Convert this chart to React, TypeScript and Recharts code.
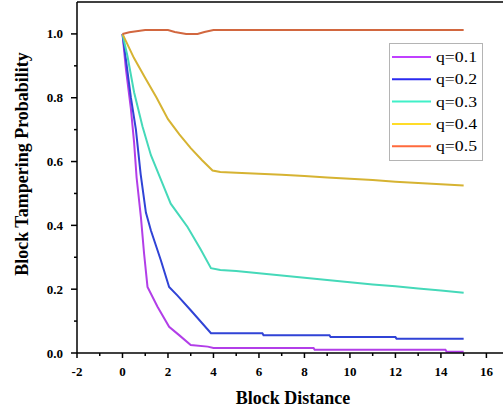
import React from 'react';
import { LineChart, Line, XAxis, YAxis, ReferenceLine, Legend, Label } from 'recharts';

// distances / probabilities, one pair per q
const q1Dist = [0, 0.15, 0.37, 0.51, 0.62, 0.81, 0.95, 1.1, 1.54, 2.05, 2.49, 3, 3.75, 4, 8.4, 8.45, 14.2, 14.25, 15];
const q1Prob = [1.0, 0.89, 0.765, 0.66, 0.55, 0.426, 0.311, 0.207, 0.145, 0.082, 0.056, 0.025, 0.02, 0.016, 0.016, 0.01, 0.01, 0.004, 0.004];

const q2Dist = [0, 0.15, 0.37, 0.59, 0.8, 1.03, 1.25, 1.69, 2.05, 2.42, 3, 3.89, 6.15, 6.2, 9.1, 9.15, 12.0, 12.05, 15];
const q2Prob = [1.0, 0.92, 0.8, 0.7, 0.56, 0.44, 0.384, 0.29, 0.207, 0.18, 0.134, 0.062, 0.062, 0.056, 0.056, 0.05, 0.05, 0.045, 0.045];

const q3Dist = [0, 0.22, 0.51, 0.88, 1.25, 1.72, 2.12, 2.86, 3.44, 3.89, 4.3, 5, 6, 7, 8, 9, 10, 11, 12, 13, 14, 15];
const q3Prob = [1.0, 0.93, 0.817, 0.71, 0.62, 0.538, 0.468, 0.395, 0.324, 0.266, 0.26, 0.257, 0.25, 0.243, 0.236, 0.229, 0.222, 0.215, 0.209, 0.202, 0.196, 0.189];

const q4Dist = [0, 0.5, 1, 1.5, 2, 2.5, 3, 3.5, 3.96, 4.3, 5, 6, 7, 8, 9, 10, 11, 12, 13, 14, 15];
const q4Prob = [1.0, 0.925, 0.862, 0.8, 0.733, 0.685, 0.642, 0.604, 0.572, 0.567, 0.565, 0.562, 0.559, 0.555, 0.55, 0.546, 0.542, 0.537, 0.533, 0.529, 0.525];

const q5Dist = [0, 0.3, 1, 2, 2.3, 2.8, 3.3, 3.6, 4, 15];
const q5Prob = [1.0, 1.005, 1.012, 1.012, 1.006, 1.0, 1.0, 1.006, 1.012, 1.012];

const seriesNames = ['q=0.1', 'q=0.2', 'q=0.3', 'q=0.4', 'q=0.5'];
const lineColors = ['#b23ee8', '#3043d6', '#45d9b9', '#d6b332', '#d2673f'];
const legendColors = ['#c040ff', '#2a2af0', '#40f0c8', '#ffdc28', '#ff6a3c'];

const xTicks = [-2, -1, 0, 1, 2, 3, 4, 5, 6, 7, 8, 9, 10, 11, 12, 13, 14, 15, 16];
const yTicks = [0, 0.1, 0.2, 0.3, 0.4, 0.5, 0.6, 0.7, 0.8, 0.9, 1.0];

const series = [
  [q1Dist, q1Prob],
  [q2Dist, q2Prob],
  [q3Dist, q3Prob],
  [q4Dist, q4Prob],
  [q5Dist, q5Prob],
].map(([dist, prob], i) => ({
  name: seriesNames[i],
  data: dist.map((d, j) => ({ x: d, y: prob[j] })),
}));

const FONT = '"Liberation Serif", "Times New Roman", serif';

function XTick(props: any) {
  const { x, y, payload } = props;
  const v = payload.value;
  const major = v % 2 === 0;
  return (
    <g>
      <line x1={x} y1={y} x2={x} y2={y + (major ? 5 : 3)} stroke="#000" strokeWidth={1.5} />
      {major && (
        <text x={x} y={y + 23} textAnchor="middle" fontFamily={FONT} fontWeight="bold" fontSize={13} fill="#000">
          {v < 0 ? `-${Math.abs(v)}` : v}
        </text>
      )}
    </g>
  );
}

function YTick(props: any) {
  const { x, y, payload } = props;
  const v = payload.value;
  const major = Math.round(v * 10) % 2 === 0;
  return (
    <g>
      <line x1={x - (major ? 6 : 3)} y1={y} x2={x} y2={y} stroke="#000" strokeWidth={1.5} />
      {major && (
        <text x={x - 14} y={y + 4.5} textAnchor="end" fontFamily={FONT} fontWeight="bold" fontSize={13} fill="#000">
          {v.toFixed(1)}
        </text>
      )}
    </g>
  );
}

function LegendBox() {
  return (
    <svg width={94} height={118} style={{ display: 'block' }}>
      <rect x={0.5} y={0.5} width={93} height={117} fill="#fff" stroke="#b4b4b4" />
      {seriesNames.map((n, i) => {
        const cy = 14 + i * 22.3;
        return (
          <g key={n}>
            <line x1={3} y1={cy} x2={42} y2={cy} stroke={legendColors[i]} strokeWidth={2} />
            <text x={47} y={cy + 5} fontFamily={FONT} fontSize={14} textLength={41} lengthAdjust="spacingAndGlyphs" fill="#000">
              {n}
            </text>
          </g>
        );
      })}
    </svg>
  );
}

export default function App() {
  return (
    <div style={{ position: 'absolute', left: 0, top: 0, width: 503, height: 412, background: '#fff' }}>
      <LineChart width={503} height={412} margin={{ top: 2, right: 0, bottom: 0, left: 0 }}>
        <XAxis
          type="number"
          dataKey="x"
          domain={[-2, 16.73]}
          ticks={xTicks}
          interval={0}
          allowDataOverflow
          height={59}
          tickSize={0}
          tickMargin={0}
          tickLine={false}
          axisLine={{ stroke: '#000', strokeWidth: 1.5 }}
          tick={<XTick />}
        >
          <Label
            content={({ viewBox }: any) => (
              <text x={viewBox.x + viewBox.width / 2 + 3} y={viewBox.y + 51} textAnchor="middle" fontFamily={FONT} fontWeight="bold" fontSize={18} fill="#000">
                Block Distance
              </text>
            )}
          />
        </XAxis>
        <YAxis
          type="number"
          domain={[0, 1.1]}
          ticks={yTicks}
          interval={0}
          allowDataOverflow
          width={77}
          tickSize={0}
          tickMargin={0}
          tickLine={false}
          axisLine={{ stroke: '#000', strokeWidth: 1.5 }}
          tick={<YTick />}
        >
          <Label
            content={() => {
              const cx = 28;
              const cy = 164;
              return (
                <text x={cx} y={cy} transform={`rotate(-90 ${cx} ${cy})`} textAnchor="middle" fontFamily={FONT} fontWeight="bold" fontSize={18} fill="#000">
                  Block Tampering Probability
                </text>
              );
            }}
          />
        </YAxis>
        <ReferenceLine y={1.1} stroke="#000" strokeWidth={1.5} />
        {series.map((s, i) => (
          <Line
            key={s.name}
            name={s.name}
            data={s.data}
            dataKey="y"
            type="linear"
            stroke={lineColors[i]}
            strokeWidth={2}
            dot={false}
            activeDot={false}
            isAnimationActive={false}
          />
        ))}
        <Legend
          layout="vertical"
          align="center"
          verticalAlign="middle"
          wrapperStyle={{ position: 'absolute', left: 389, top: 43, width: 94, height: 118 }}
          content={() => <LegendBox />}
        />
      </LineChart>
    </div>
  );
}
